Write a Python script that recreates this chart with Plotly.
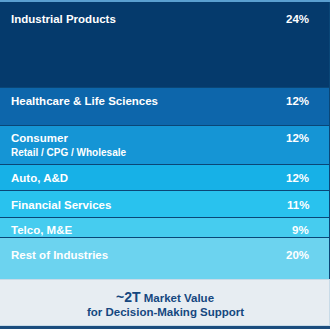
import plotly.graph_objects as go

# ---- data ----
industries = ["Industrial Products", "Healthcare & Life Sciences", "Consumer",
              "Auto, A&D", "Financial Services", "Telco, M&E", "Rest of Industries"]
sublabels = ["", "", "Retail / CPG / Wholesale", "", "", "", ""]
shares = [24, 12, 12, 12, 11, 9, 20]
share_labels = [f"{v}%" for v in shares]
footer_big = "~2T"
footer_rest = "Market Value"
footer_line2 = "for Decision-Making Support"

# ---- layout (row heights of the infographic table, in pixels) ----
row_heights = [86, 38, 39, 26, 27, 20, 42]
footer_height = 46
colors = ["#053a6c", "#0d66ab", "#1595d5", "#17b1e7", "#29c2ee", "#46ccef", "#6cd3ef"]
label_offset = [17, 13, 12, 13, 14, 12, 17]
FONT = "Liberation Sans Narrow, Arial Narrow, Liberation Sans, Arial, sans-serif"

fig = go.Figure()
for name, h, c in zip(industries, row_heights, colors):
    fig.add_trace(go.Bar(x=["all"], y=[h], name=name, marker=dict(color=c, line=dict(color="#0a4677", width=1)),
                         width=1, hoverinfo="skip", showlegend=False))
fig.add_trace(go.Bar(x=["all"], y=[footer_height], name="footer",
                     marker=dict(color="#e7edf2", line=dict(color="#c8dbe8", width=1)),
                     width=1, hoverinfo="skip", showlegend=False))

annotations = []
top = 0
for name, sub, lab, h, off in zip(industries, sublabels, share_labels, row_heights, label_offset):
    annotations.append(dict(x=0.027, xref="paper", xanchor="left", y=top, yref="y", yanchor="middle",
                            yshift=-off, text=f"<b>{name}</b>", showarrow=False,
                            font=dict(family=FONT, size=11.5, color="white")))
    if sub:
        annotations.append(dict(x=0.027, xref="paper", xanchor="left", y=top, yref="y", yanchor="middle",
                                yshift=-off - 14, text=f"<b>{sub}</b>", showarrow=False,
                                font=dict(family=FONT, size=10, color="white")))
    annotations.append(dict(x=0.943, xref="paper", xanchor="right", y=top, yref="y", yanchor="middle",
                            yshift=-off, text=f"<b>{lab}</b>", showarrow=False,
                            font=dict(family=FONT, size=11.5, color="white")))
    top += h

annotations.append(dict(x=0.5, xref="paper", xanchor="center", y=top, yref="y", yanchor="middle", yshift=-17,
                        text=f"<b><span style='font-size:14px'>{footer_big}</span> {footer_rest}</b>",
                        showarrow=False, font=dict(family=FONT, size=11.5, color="#15477f")))
annotations.append(dict(x=0.5, xref="paper", xanchor="center", y=top, yref="y", yanchor="middle", yshift=-32,
                        text=f"<b>{footer_line2}</b>", showarrow=False,
                        font=dict(family=FONT, size=11.5, color="#15477f")))

total = sum(row_heights) + footer_height
fig.update_layout(
    barmode="stack", bargap=0, width=330, height=329,
    margin=dict(l=0, r=0, t=0, b=0),
    paper_bgcolor="#1b4d7e", plot_bgcolor="#1b4d7e",
    xaxis=dict(visible=False, range=[-0.5, 0.5], fixedrange=True),
    yaxis=dict(visible=False, range=[total + 3, -2], fixedrange=True),
    annotations=annotations,
    shapes=[dict(type="rect", xref="paper", yref="paper", x0=0, x1=1, y0=1 - 2 / 329, y1=1,
                 fillcolor="#5a9fd0", line=dict(width=0))],
)
fig.write_html("out.html", config={"displayModeBar": False})
